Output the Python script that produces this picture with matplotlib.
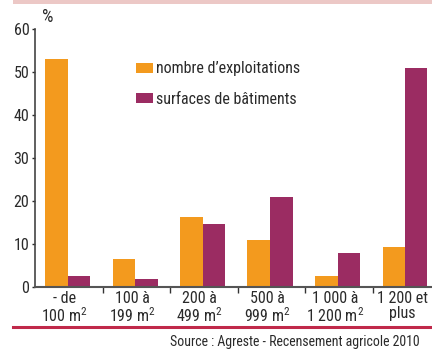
"""Bar chart: exploitations vs building surfaces by size class."""
import matplotlib
matplotlib.use('Agg')
import matplotlib.pyplot as plt
import matplotlib.transforms as mtransforms
from matplotlib.patches import Rectangle
from matplotlib.lines import Line2D
import numpy as np

plt.rcParams['font.family'] = ['Roboto Condensed', 'DejaVu Sans']
plt.rcParams['mathtext.fontset'] = 'custom'
plt.rcParams['mathtext.rm'] = 'Roboto Condensed'

categories = ['- de\n100 m$^2$', '100 à\n199 m$^2$', '200 à\n499 m$^2$',
              '500 à\n999 m$^2$', '1 000 à\n1 200 m$^2$', '1 200 et\nplus']
exploitations = [53.0, 6.5, 16.2, 11.0, 2.5, 9.3]
surfaces = [2.5, 1.8, 14.7, 21.0, 7.8, 51.0]
y_ticks = [0, 10, 20, 30, 40, 50, 60]

orange = '#f39a1e'
purple = '#9b2c62'
text_color = '#2a2a2a'
W, H = 432, 349

fig = plt.figure(figsize=(W / 100, H / 100), dpi=100)

# pink header band (remains of the title)
fig.patches.append(Rectangle((13 / W, 1 - 4 / H), 1, 4 / H,
                             transform=fig.transFigure,
                             facecolor='#ecc8c6', edgecolor='none'))
# red separator line above source
fig.lines.append(Line2D([13 / W, 1], [1 - 327 / H, 1 - 327 / H],
                        transform=fig.transFigure, color='#c0294a',
                        linewidth=2.2))

ax = fig.add_axes([35 / W, 62 / H, 405 / W, 258 / H])
x = np.arange(len(categories))
bw = 22.5 / 67.5
off = 10 / 67.5 - 0.5
ax.bar(x + off, exploitations, bw, align='edge', color=orange,
       label="nombre d’exploitations")
ax.bar(x + off + bw, surfaces, bw, align='edge', color=purple,
       label='surfaces de bâtiments')

ax.set_xlim(-0.5, len(categories) - 0.5)
ax.set_ylim(0, 60)
ax.set_yticks(y_ticks)
ax.tick_params(axis='y', length=2, width=1, labelsize=11.5, pad=2,
               colors=text_color)
ax.set_xticks(x)
ax.set_xticklabels(categories, fontsize=11.5, linespacing=1.0)
ax.tick_params(axis='x', length=0, pad=3, labelcolor=text_color)
# labels sit a little left of the slot centres
shift = mtransforms.ScaledTranslation(-4 / 100, 0, fig.dpi_scale_trans)
for lbl in ax.get_xticklabels():
    lbl.set_transform(lbl.get_transform() + shift)
ax.set_xticks(np.arange(len(categories)) + 0.5, minor=True)
ax.tick_params(axis='x', which='minor', length=4, width=1,
               color='#333333')
for s in ['top', 'right']:
    ax.spines[s].set_visible(False)
ax.spines['left'].set_color('#444444')
ax.spines['left'].set_linewidth(1.2)
ax.spines['bottom'].set_color('#555555')
ax.spines['bottom'].set_linewidth(1.5)

ax.legend(loc='upper left', bbox_to_anchor=(0.215, 0.93), frameon=False,
          fontsize=11.5, handlelength=1.05, handleheight=0.6,
          handletextpad=0.2, labelspacing=0.95, labelcolor=text_color)

fig.text(42 / W, 1 - 22 / H, '%', fontsize=13, color=text_color)
fig.text(170 / W, 1 - 346 / H,
         'Source : Agreste - Recensement agricole 2010', fontsize=10,
         color=text_color)

fig.savefig('out.png', dpi=100)
